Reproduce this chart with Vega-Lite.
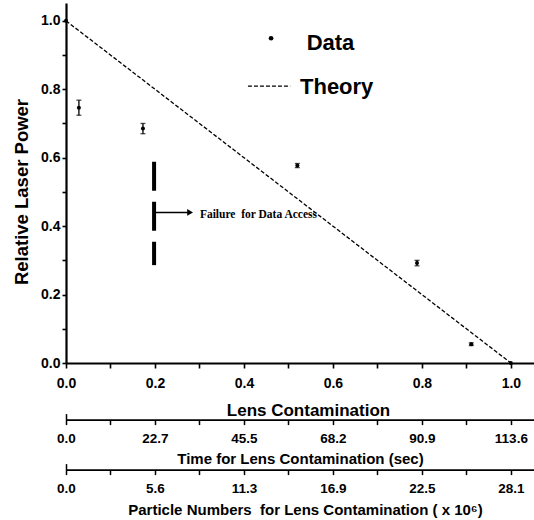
{
  "$schema": "https://vega.github.io/schema/vega-lite/v6.json",
  "width": 468,
  "height": 360,
  "autosize": "none",
  "padding": {"left": 66, "top": 3, "right": 0, "bottom": 157},
  "background": "white",
  "config": {
    "view": {"stroke": null},
    "axis": {
      "grid": false,
      "labelFont": "Liberation Sans",
      "titleFont": "Liberation Sans",
      "labelFontWeight": "bold",
      "titleFontWeight": "bold",
      "labelColor": "black",
      "titleColor": "black",
      "labelFlush": false,
      "labelOverlap": false
    }
  },
  "datasets": {
    "measured": [
      {"contamination": 0.0, "power": 1.0, "err": 0},
      {"contamination": 0.029, "power": 0.746, "err": 0.022},
      {"contamination": 0.173, "power": 0.685, "err": 0.015},
      {"contamination": 0.52, "power": 0.577, "err": 0.006},
      {"contamination": 0.789, "power": 0.292, "err": 0.008},
      {"contamination": 0.911, "power": 0.055, "err": 0.004},
      {"contamination": 1.0, "power": 0.0, "err": 0}
    ],
    "theory": [
      {"contamination": 0, "power": 1},
      {"contamination": 1, "power": 0}
    ]
  },
  "resolve": {"axis": {"x": "independent", "y": "independent"}},
  "layer": [
    {
      "data": {"name": "theory"},
      "mark": {"type": "point", "opacity": 0},
      "encoding": {
        "x": {
          "field": "contamination", "type": "quantitative",
          "scale": {"domain": [0, 1.052], "nice": false, "zero": false},
          "axis": {
            "orient": "bottom", "values": [0, 0.1, 0.2, 0.3, 0.4, 0.5, 0.6, 0.7, 0.8, 0.9, 1.0], "format": ".1f",
            "labelExpr": "datum.label == '0.0' || datum.label == '0.2' || datum.label == '0.4' || datum.label == '0.6' || datum.label == '0.8' || datum.label == '1.0' ? datum.label : ''",
            "domain": true, "ticks": true, "domainColor": "black", "domainWidth": 2.2, "tickColor": "black", "tickWidth": 1.6,
            "tickSize": 5, "labelPadding": 8.6, "labelFontSize": 14,
            "title": "Lens Contamination", "titleFontSize": 17, "titleBaseline": "middle",
            "titleAlign": "center", "titleX": 242, "titleY": 47.6
          }
        },
        "y": {
          "field": "power", "type": "quantitative",
          "scale": {"domain": [0, 1.052], "nice": false, "zero": false},
          "axis": {
            "orient": "left", "values": [0, 0.1, 0.2, 0.3, 0.4, 0.5, 0.6, 0.7, 0.8, 0.9, 1.0], "format": ".1f",
            "labelExpr": "datum.label == '0.0' || datum.label == '0.2' || datum.label == '0.4' || datum.label == '0.6' || datum.label == '0.8' || datum.label == '1.0' ? datum.label : ''",
            "domain": true, "ticks": true, "domainColor": "black", "domainWidth": 2.2, "tickColor": "black", "tickWidth": 1.6,
            "tickSize": 4, "labelPadding": 2, "labelFontSize": 14,
            "title": "Relative Laser Power", "titleFontSize": 18.5, "titleAngle": -90,
            "titleBaseline": "middle", "titleAlign": "center", "titleX": -45, "titleY": 188.5
          }
        }
      }
    },
    {
      "data": {"name": "theory"},
      "mark": {"type": "point", "opacity": 0},
      "encoding": {
        "x": {
          "field": "contamination", "type": "quantitative",
          "axis": {
            "orient": "bottom", "offset": 56.6,
            "values": [0, 0.1, 0.2, 0.3, 0.4, 0.5, 0.6, 0.7, 0.8, 0.9, 1.0], "format": ".1f",
            "labelExpr": "datum.label == '0.0' ? '0.0' : datum.label == '0.2' ? '22.7' : datum.label == '0.4' ? '45.5' : datum.label == '0.6' ? '68.2' : datum.label == '0.8' ? '90.9' : datum.label == '1.0' ? '113.6' : ''",
            "domain": true, "ticks": true, "domainColor": "black", "domainWidth": 1.8, "tickColor": "black", "tickWidth": 1.5,
            "tickSize": 5, "labelPadding": 6.8, "labelFontSize": 13.5,
            "title": "Time for Lens Contamination (sec)", "titleFontSize": 15, "titleBaseline": "middle",
            "titleAlign": "center", "titleX": 234, "titleY": 38.4
          }
        },
        "y": {"field": "power", "type": "quantitative", "axis": null}
      }
    },
    {
      "data": {"name": "theory"},
      "mark": {"type": "point", "opacity": 0},
      "encoding": {
        "x": {
          "field": "contamination", "type": "quantitative",
          "axis": {
            "orient": "bottom", "offset": 106.6,
            "values": [0, 0.1, 0.2, 0.3, 0.4, 0.5, 0.6, 0.7, 0.8, 0.9, 1.0], "format": ".1f",
            "labelExpr": "datum.label == '0.0' ? '0.0' : datum.label == '0.2' ? '5.6' : datum.label == '0.4' ? '11.3' : datum.label == '0.6' ? '16.9' : datum.label == '0.8' ? '22.5' : datum.label == '1.0' ? '28.1' : ''",
            "domain": true, "ticks": true, "domainColor": "black", "domainWidth": 1.8, "tickColor": "black", "tickWidth": 1.5,
            "tickSize": 5, "labelPadding": 6.8, "labelFontSize": 13.5,
            "title": "Particle Numbers\u00a0 for Lens Contamination ( x 10⁶)", "titleFontSize": 15, "titleBaseline": "middle",
            "titleAlign": "center", "titleX": 239, "titleY": 40
          }
        },
        "y": {"field": "power", "type": "quantitative", "axis": null}
      }
    },
    {
      "data": {"name": "theory"},
      "mark": {"type": "point", "opacity": 0},
      "encoding": {
        "x": {
          "field": "contamination", "type": "quantitative",
          "axis": {"orient": "bottom", "offset": 56.6, "values": [0], "ticks": true, "tickColor": "black", "tickWidth": 1.5, "tickSize": -6, "labels": false, "domain": false, "title": null}
        },
        "y": {"field": "power", "type": "quantitative", "axis": null}
      }
    },
    {
      "data": {"name": "theory"},
      "mark": {"type": "point", "opacity": 0},
      "encoding": {
        "x": {
          "field": "contamination", "type": "quantitative",
          "axis": {"orient": "bottom", "offset": 106.6, "values": [0], "ticks": true, "tickColor": "black", "tickWidth": 1.5, "tickSize": -6, "labels": false, "domain": false, "title": null}
        },
        "y": {"field": "power", "type": "quantitative", "axis": null}
      }
    },
    {
      "data": {"name": "theory"},
      "mark": {"type": "line", "color": "black", "strokeWidth": 1.3, "strokeDash": [4, 2]},
      "encoding": {
        "x": {"field": "contamination", "type": "quantitative", "axis": null},
        "y": {"field": "power", "type": "quantitative", "axis": null}
      }
    },
    {
      "data": {"name": "measured"},
      "transform": [{"filter": "datum.err > 0"}],
      "mark": {"type": "errorbar", "color": "black", "thickness": 1.3, "ticks": {"size": 5, "color": "black"}},
      "encoding": {
        "x": {"field": "contamination", "type": "quantitative", "axis": null},
        "y": {"field": "power", "type": "quantitative", "axis": null},
        "yError": {"field": "err"}
      }
    },
    {
      "data": {"name": "measured"},
      "mark": {"type": "point", "filled": true, "color": "black", "size": 16, "opacity": 1},
      "encoding": {
        "x": {"field": "contamination", "type": "quantitative", "axis": null},
        "y": {"field": "power", "type": "quantitative", "axis": null}
      }
    },
    {
      "data": {"values": [{}]},
      "mark": {"type": "rule", "color": "black", "strokeWidth": 4, "strokeDash": [29, 11]},
      "encoding": {
        "x": {"datum": 0.198, "type": "quantitative", "axis": null},
        "y": {"datum": 0.588, "type": "quantitative", "axis": null},
        "y2": {"datum": 0.286}
      }
    },
    {
      "data": {"values": [{}]},
      "mark": {"type": "rule", "color": "black", "strokeWidth": 1.5},
      "encoding": {
        "x": {"datum": 0.2, "type": "quantitative", "axis": null},
        "x2": {"datum": 0.274},
        "y": {"datum": 0.44, "type": "quantitative", "axis": null}
      }
    },
    {
      "data": {"values": [{}]},
      "mark": {"type": "point", "shape": "triangle-right", "filled": true, "color": "black", "size": 45, "opacity": 1},
      "encoding": {
        "x": {"datum": 0.279, "type": "quantitative", "axis": null},
        "y": {"datum": 0.44, "type": "quantitative", "axis": null}
      }
    },
    {
      "data": {"values": [{}]},
      "mark": {"type": "text", "text": "Failure\u00a0 for Data Access", "font": "Liberation Serif", "fontWeight": "bold", "fontSize": 11.5, "align": "left", "baseline": "middle", "color": "black"},
      "encoding": {
        "x": {"datum": 0.301, "type": "quantitative", "axis": null},
        "y": {"datum": 0.432, "type": "quantitative", "axis": null}
      }
    },
    {
      "data": {"values": [{}]},
      "mark": {"type": "point", "filled": true, "color": "black", "size": 22, "opacity": 1},
      "encoding": {
        "x": {"datum": 0.461, "type": "quantitative", "axis": null},
        "y": {"datum": 0.949, "type": "quantitative", "axis": null}
      }
    },
    {
      "data": {"values": [{}]},
      "mark": {"type": "text", "text": "Data", "font": "Liberation Sans", "fontWeight": "bold", "fontSize": 22, "align": "left", "baseline": "middle", "color": "black"},
      "encoding": {
        "x": {"datum": 0.541, "type": "quantitative", "axis": null},
        "y": {"datum": 0.936, "type": "quantitative", "axis": null}
      }
    },
    {
      "data": {"values": [{}]},
      "mark": {"type": "rule", "color": "black", "strokeWidth": 1.3, "strokeDash": [4, 2]},
      "encoding": {
        "x": {"datum": 0.409, "type": "quantitative", "axis": null},
        "x2": {"datum": 0.504},
        "y": {"datum": 0.809, "type": "quantitative", "axis": null}
      }
    },
    {
      "data": {"values": [{}]},
      "mark": {"type": "text", "text": "Theory", "font": "Liberation Sans", "fontWeight": "bold", "fontSize": 22, "align": "left", "baseline": "middle", "color": "black"},
      "encoding": {
        "x": {"datum": 0.526, "type": "quantitative", "axis": null},
        "y": {"datum": 0.806, "type": "quantitative", "axis": null}
      }
    }
  ]
}
